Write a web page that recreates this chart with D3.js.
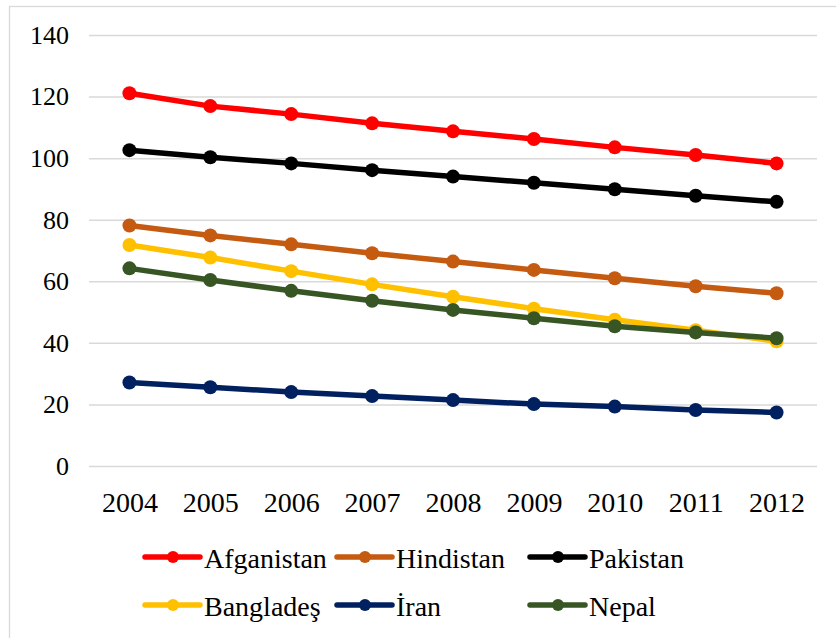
<!DOCTYPE html>
<html><head><meta charset="utf-8">
<script src="https://cdn.jsdelivr.net/npm/d3@7/dist/d3.min.js"></script>
<style>body{margin:0;background:#fff}svg{display:block}svg text{font-family:"Liberation Serif","Times New Roman",serif}</style>
</head><body>
<svg id="c" width="836" height="638"></svg>
<script>
const years = ["2004","2005","2006","2007","2008","2009","2010","2011","2012"];
const yTicks = [0,20,40,60,80,100,120,140];
const seriesNames = ["Afganistan","Hindistan","Pakistan","Bangladeş","İran","Nepal"];
const seriesColors = ["#ff0000","#c55a11","#000000","#ffc000","#002060","#375623"];
const afganistan = [121.1,116.9,114.3,111.3,108.7,106.2,103.5,101.0,98.3];
const hindistan  = [78.1,74.9,72.0,69.1,66.4,63.7,61.0,58.4,56.1];
const pakistan   = [102.6,100.3,98.3,96.1,94.0,92.0,89.9,87.8,85.8];
const banglades  = [71.8,67.7,63.3,59.0,55.0,51.1,47.5,44.1,40.5];
const iran       = [27.1,25.6,24.0,22.7,21.4,20.1,19.3,18.2,17.4];
const nepal      = [64.2,60.4,56.9,53.7,50.7,48.0,45.4,43.4,41.5];
const seriesValues = [afganistan,hindistan,pakistan,banglades,iran,nepal];

const svg = d3.select("#c");
const font = "Liberation Serif, Times New Roman, serif";

svg.append("rect").attr("x",9.5).attr("y",6.5).attr("width",840).attr("height",650)
  .attr("fill","#fff").attr("stroke","#d9d9d9").attr("stroke-width",1.3);

const x = d3.scalePoint().domain(years).range([89,817]).padding(0.5);
const y = d3.scaleLinear().domain([0,140]).range([466,35]);

const yAxis = d3.axisLeft(y).tickValues(yTicks).tickSize(-(817-89)).tickPadding(20);
const gy = svg.append("g").attr("transform","translate(89,0)").call(yAxis);
gy.attr("font-family",null);
gy.select(".domain").remove();
gy.selectAll(".tick line").attr("stroke","#d9d9d9").attr("stroke-width",1.5);
gy.selectAll(".tick text").style("font-family",font).style("font-size","26px").attr("fill","#000");

const xAxis = d3.axisBottom(x).tickSize(0).tickPadding(26);
const gx = svg.append("g").attr("transform","translate(0,466)").call(xAxis);
gx.attr("font-family",null);
gx.select(".domain").remove();
gx.selectAll(".tick text").style("font-family",font).style("font-size","28px").attr("fill","#000");

const line = d3.line().x((d,i)=>x(years[i])).y(d=>y(d));
seriesValues.forEach((vals,si)=>{
  const g = svg.append("g");
  g.append("path").datum(vals).attr("d",line).attr("fill","none")
    .attr("stroke",seriesColors[si]).attr("stroke-width",5.5).attr("stroke-linejoin","round");
  g.selectAll("circle").data(vals).join("circle")
    .attr("cx",(d,i)=>x(years[i])).attr("cy",d=>y(d)).attr("r",7)
    .attr("fill",seriesColors[si]);
});

const legX = [145,337,530];
const legY = [557,605];
seriesNames.forEach((name,i)=>{
  const lx = legX[i%3], ly = legY[Math.floor(i/3)];
  const g = svg.append("g").attr("transform",`translate(${lx},${ly})`);
  g.append("line").attr("x1",0).attr("x2",55).attr("y1",0).attr("y2",0)
    .attr("stroke",seriesColors[i]).attr("stroke-width",5.5).attr("stroke-linecap","round");
  g.append("circle").attr("cx",28).attr("cy",0).attr("r",6).attr("fill",seriesColors[i]);
  g.append("text").attr("x",59).attr("y",11).style("font-family",font).style("font-size","28px")
    .attr("fill","#000").text(name);
});
</script>
</body></html>
